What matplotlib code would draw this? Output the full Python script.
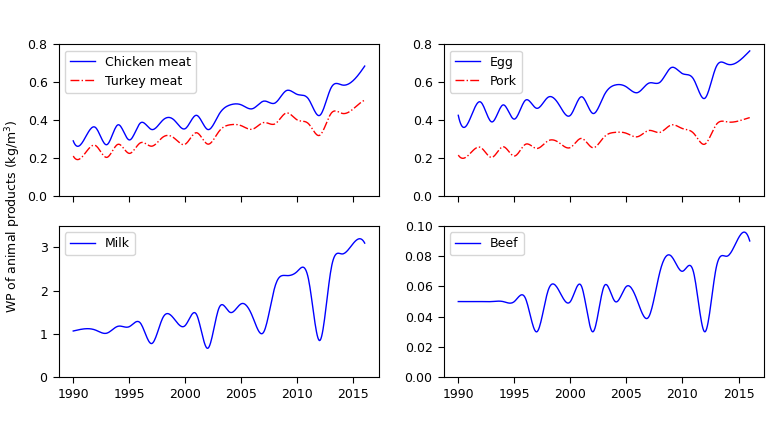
import numpy as np
from matplotlib import pyplot as plt

years = np.arange(1990, 2017)

chicken = [0.29, 0.30, 0.36, 0.27, 0.375, 0.295, 0.385, 0.35, 0.40, 0.40, 0.355, 0.425, 0.35,
           0.43, 0.48, 0.48, 0.46, 0.50, 0.49, 0.555, 0.535, 0.51, 0.425, 0.57, 0.585, 0.61, 0.685]
turkey = [0.21, 0.22, 0.265, 0.203, 0.272, 0.224, 0.28, 0.262, 0.31, 0.305, 0.273, 0.333, 0.273,
          0.34, 0.375, 0.37, 0.352, 0.387, 0.38, 0.437, 0.40, 0.38, 0.32, 0.435, 0.435, 0.46, 0.505]
egg = [0.425, 0.40, 0.495, 0.39, 0.48, 0.405, 0.505, 0.462, 0.52, 0.48, 0.425, 0.523, 0.435,
       0.53, 0.585, 0.575, 0.545, 0.595, 0.60, 0.677, 0.645, 0.615, 0.515, 0.68, 0.695, 0.71, 0.765]
pork = [0.215, 0.22, 0.255, 0.203, 0.259, 0.21, 0.272, 0.25, 0.29, 0.28, 0.255, 0.303, 0.254,
        0.31, 0.335, 0.33, 0.312, 0.345, 0.335, 0.374, 0.355, 0.33, 0.273, 0.375, 0.39, 0.395, 0.413]
milk = [1.07, 1.12, 1.09, 1.02, 1.18, 1.17, 1.25, 0.78, 1.38, 1.35, 1.2, 1.45, 0.67,
        1.6, 1.5, 1.7, 1.4, 1.05, 2.1, 2.35, 2.45, 2.25, 0.85, 2.5, 2.85, 3.1, 3.1]
beef = [0.05, 0.05, 0.05, 0.05, 0.05, 0.05, 0.052, 0.03, 0.057, 0.057, 0.05, 0.06, 0.03,
        0.06, 0.05, 0.06, 0.05, 0.04, 0.07, 0.08, 0.07, 0.069, 0.03, 0.072, 0.08, 0.092, 0.09]


def smooth(x, y, n=400):
    # not-a-knot cubic spline through the yearly values (uniform spacing)
    x = np.asarray(x, float)
    y = np.asarray(y, float)
    N = len(x)
    h = x[1] - x[0]
    A = np.zeros((N, N))
    b = np.zeros(N)
    A[0, :3] = [1, -2, 1]
    A[-1, -3:] = [1, -2, 1]
    for i in range(1, N - 1):
        A[i, i - 1:i + 2] = [1, 4, 1]
        b[i] = 6 * (y[i - 1] - 2 * y[i] + y[i + 1]) / h ** 2
    M = np.linalg.solve(A, b)
    xs = np.linspace(x[0], x[-1], n)
    idx = np.clip(((xs - x[0]) // h).astype(int), 0, N - 2)
    a = (x[idx + 1] - xs) / h
    bb = (xs - x[idx]) / h
    ys = a * y[idx] + bb * y[idx + 1] + ((a ** 3 - a) * M[idx] + (bb ** 3 - bb) * M[idx + 1]) * h ** 2 / 6
    return xs, ys


plt.rcParams['font.size'] = 9
plt.rcParams['xtick.major.size'] = 4.5
plt.rcParams['ytick.major.size'] = 4.5

fig, axes = plt.subplots(2, 2, figsize=(7.7, 4.33), dpi=100, sharex=True)
fig.subplots_adjust(left=0.0762, right=0.9926, top=0.8977, bottom=0.1286, wspace=0.201, hspace=0.198)

panels = [
    (axes[0, 0], [(chicken, 'Chicken meat', 'b', '-'), (turkey, 'Turkey meat', 'r', '-.')], (0, 0.8)),
    (axes[0, 1], [(egg, 'Egg', 'b', '-'), (pork, 'Pork', 'r', '-.')], (0, 0.8)),
    (axes[1, 0], [(milk, 'Milk', 'b', '-')], (0, 3.5)),
    (axes[1, 1], [(beef, 'Beef', 'b', '-')], (0, 0.1)),
]

for ax, series, ylim in panels:
    for vals, name, col, ls in series:
        xs, ys = smooth(years, vals)
        ax.plot(xs, ys, color=col, linestyle=ls, linewidth=1, label=name)
    ax.set_ylim(ylim)
    ax.legend(loc='upper left')

axes[1, 0].set_xticks([1990, 1995, 2000, 2005, 2010, 2015])

fig.text(0.017, 0.5, 'WP of animal products (kg/m$^3$)', rotation=90, va='center', ha='center')

plt.savefig('out.png')
